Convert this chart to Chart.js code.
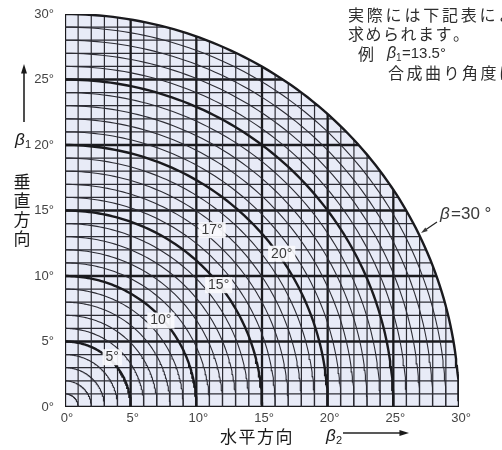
<!DOCTYPE html>
<html>
<head>
<meta charset="utf-8">
<title>合成曲り角</title>
<script src="https://cdn.jsdelivr.net/npm/chart.js"></script>
<style>
	html, body { margin:0; padding:0; background:#fff; }
</style>
</head>
<body>
<canvas id="myChart" width="502" height="450"></canvas>
<script>
// grid positions (deg), every 1 deg, thick every 5
var gridSteps = [0,1,2,3,4,5,6,7,8,9,10,11,12,13,14,15,16,17,18,19,20,21,22,23,24,25,26,27,28,29,30];
// combined bend angle curves beta (deg)
var betaLevels = [1,2,3,4,5,6,7,8,9,10,11,12,13,14,15,16,17,18,19,20,21,22,23,24,25,26,27,28,29,30];
var tickValues = [0,5,10,15,20,25,30];
// labels on the curves, placed at (beta2, beta1)
var arcLabels = ['5°','10°','15°','17°','20°'];
var arcLabelX = [3.6, 7.3, 11.7, 11.2, 16.5];
var arcLabelY = [3.8, 6.6, 9.3, 13.5, 11.7];
var noteLines = ['実際には下記表により', '求められます。'];

var maxDeg = 30;
var lineDark = '#1a1a1e';
var lineThin = '#2c2c34';

function curve(r)
{
	var pts = [];
	for (var i = 0; i <= 90; i++) {
		var a = i * Math.PI / 180;
		pts.push({x: r * Math.cos(a), y: r * Math.sin(a)});
	}
	return pts;
}

var datasets = [];
// quarter disc background
datasets.push({
	data: curve(maxDeg), showLine: true, pointRadius: 0, borderWidth: 0,
	fill: 'origin', backgroundColor: '#e8ebf7', order: 10
});
gridSteps.forEach(function(k){
	var top = Math.sqrt(maxDeg * maxDeg - k * k);
	var major = (k % 5 == 0);
	var w = major ? 2.3 : 1.2;
	var c = major ? lineDark : lineThin;
	datasets.push({data: [{x:k, y:0}, {x:k, y:top}], showLine: true, pointRadius: 0, borderWidth: w, borderColor: c, order: 5});
	datasets.push({data: [{x:0, y:k}, {x:top, y:k}], showLine: true, pointRadius: 0, borderWidth: w, borderColor: c, order: 5});
});
betaLevels.forEach(function(b){
	var major = (b % 5 == 0);
	datasets.push({data: curve(b), showLine: true, pointRadius: 0, borderWidth: major ? 2.4 : 1.1,
		borderColor: major ? lineDark : lineThin, order: 4});
});

function arrow(ctx, x1, y1, x2, y2, head)
{
	var a = Math.atan2(y2 - y1, x2 - x1);
	ctx.beginPath();
	ctx.moveTo(x1, y1);
	ctx.lineTo(x2 - Math.cos(a) * head * 0.8, y2 - Math.sin(a) * head * 0.8);
	ctx.stroke();
	ctx.beginPath();
	ctx.moveTo(x2, y2);
	ctx.lineTo(x2 - Math.cos(a - 0.3) * head, y2 - Math.sin(a - 0.3) * head);
	ctx.lineTo(x2 - Math.cos(a + 0.3) * head, y2 - Math.sin(a + 0.3) * head);
	ctx.closePath();
	ctx.fill();
}

function spacedText(ctx, str, x, y, step)
{
	for (var i = 0; i < str.length; i++) ctx.fillText(str[i], x + i * step, y);
}

function spacedTextV(ctx, str, x, y, step)
{
	for (var i = 0; i < str.length; i++) ctx.fillText(str[i], x, y + i * step);
}

var decorations = {
	id: 'decorations',
	afterDatasetsDraw: function(chart){
		var ctx = chart.ctx;
		var xs = chart.scales.x, ys = chart.scales.y;
		ctx.save();
		// curve labels
		ctx.font = '14px "Liberation Sans"';
		ctx.textAlign = 'center';
		ctx.textBaseline = 'middle';
		arcLabels.forEach(function(t, i){
			var px = xs.getPixelForValue(arcLabelX[i]);
			var py = ys.getPixelForValue(arcLabelY[i]);
			var w = ctx.measureText(t).width + 6;
			ctx.fillStyle = 'rgba(250,250,253,0.92)';
			ctx.fillRect(px - w / 2, py - 8, w, 16);
			ctx.fillStyle = '#3a3a3a';
			ctx.fillText(t, px, py);
		});

		// beta = 30 label
		ctx.fillStyle = '#3a3a3a';
		ctx.strokeStyle = '#222';
		ctx.lineWidth = 1.2;
		ctx.textAlign = 'left';
		ctx.font = 'italic 17px "Liberation Sans"';
		ctx.fillText('β', 440, 214);
		ctx.font = '17px "Liberation Sans"';
		ctx.fillText('=30 °', 451, 214);
		arrow(ctx, 437, 222, 421, 233, 7);

		// top-right note
		ctx.fillStyle = '#2e2e2e';
		ctx.font = '16px "Noto Sans CJK JP"';
		spacedText(ctx, noteLines[0], 348, 15, 18.8);
		spacedText(ctx, noteLines[1], 348, 34, 17.5);
		ctx.fillText('例', 358, 54);
		ctx.font = 'italic 16px "Liberation Sans"';
		ctx.fillText('β', 387, 54);
		ctx.font = '10px "Liberation Sans"';
		ctx.fillText('1', 396, 58);
		ctx.font = '15px "Liberation Sans"';
		ctx.fillText('=13.5°', 402, 54);
		ctx.font = '16px "Noto Sans CJK JP"';
		spacedText(ctx, '合成曲り角度は', 388, 73, 18.5);

		// x axis title
		ctx.fillStyle = '#1a1a1a';
		ctx.font = '17px "Noto Sans CJK JP"';
		spacedText(ctx, '水平方向', 220, 437, 18.5);
		ctx.font = 'italic 17px "Liberation Sans"';
		ctx.fillText('β', 326, 436);
		ctx.font = '11px "Liberation Sans"';
		ctx.fillText('2', 336, 441);
		ctx.lineWidth = 1.6;
		ctx.fillStyle = '#1a1a1a';
		arrow(ctx, 343, 433, 409, 433, 10);

		// y axis title
		arrow(ctx, 24, 122, 24, 64, 10);
		ctx.font = 'italic 17px "Liberation Sans"';
		ctx.fillText('β', 15, 140);
		ctx.font = '11px "Liberation Sans"';
		ctx.fillText('1', 25, 145);
		ctx.font = '17px "Noto Sans CJK JP"';
		ctx.textAlign = 'center';
		spacedTextV(ctx, '垂直方向', 22, 182, 18.7);
		ctx.restore();
	}
};

var chartConfig = {
	type: 'scatter',
	data: { datasets: datasets },
	options: {
		responsive: false,
		animation: false,
		devicePixelRatio: 1,
		layout: { padding: { top: 14, right: 43, left: 0, bottom: 0 } },
		plugins: { legend: { display: false }, tooltip: { enabled: false } },
		scales: {
			x: {
				type: 'linear', min: 0, max: maxDeg,
				grid: { display: false }, border: { display: false },
				afterBuildTicks: function(s){ s.ticks = tickValues.map(function(v){ return {value: v}; }); },
				ticks: { callback: function(v){ return v + '°'; }, color: '#444', padding: -4, labelOffset: 2,
					maxRotation: 0, autoSkip: false, font: { family: 'Liberation Sans', size: 13 } },
				afterFit: function(s){ s.height = 43; }
			},
			y: {
				type: 'linear', min: 0, max: maxDeg,
				grid: { display: false }, border: { display: false },
				afterBuildTicks: function(s){ s.ticks = tickValues.map(function(v){ return {value: v}; }); },
				ticks: { callback: function(v){ return v + '°'; }, color: '#444', padding: 3,
					autoSkip: false, font: { family: 'Liberation Sans', size: 13 } },
				afterFit: function(s){ s.width = 65; }
			}
		}
	},
	plugins: [decorations]
};

var myChart = new Chart(document.getElementById('myChart'), chartConfig);
</script>
</body>
</html>
